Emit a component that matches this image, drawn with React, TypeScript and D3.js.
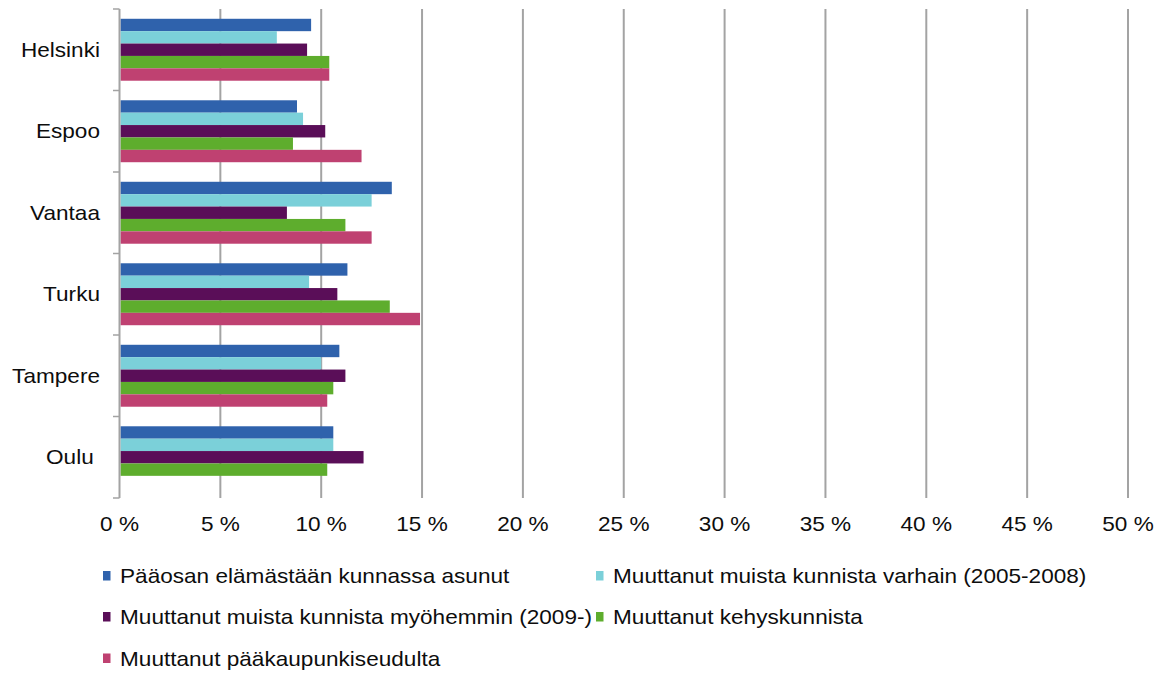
import React from 'react';
import * as d3 from 'd3';

const cities = ['Helsinki', 'Espoo', 'Vantaa', 'Turku', 'Tampere', 'Oulu\u00a0'];
const seriesNames = [
  'Pääosan elämästään kunnassa asunut',
  'Muuttanut muista kunnista varhain (2005-2008)',
  'Muuttanut muista kunnista myöhemmin (2009-)',
  'Muuttanut kehyskunnista',
  'Muuttanut pääkaupunkiseudulta'
];
const seriesColors = ['#2F62AC', '#7BD0D9', '#5A0E58', '#5EAD2D', '#BF4171'];
// one array per series, in city order (null = no bar)
const paaosan = [9.5, 8.8, 13.5, 11.3, 10.9, 10.6];
const varhain = [7.8, 9.1, 12.5, 9.4, 10.0, 10.6];
const myohemmin = [9.3, 10.2, 8.3, 10.8, 11.2, 12.1];
const kehys = [10.4, 8.6, 11.2, 13.4, 10.6, 10.3];
const paakaupunki = [10.4, 12.0, 12.5, 14.9, 10.3, null];
const seriesValues = [paaosan, varhain, myohemmin, kehys, paakaupunki];
const xTicks = [0, 5, 10, 15, 20, 25, 30, 35, 40, 45, 50];

const W = 1164;
const H = 675;
const FONT = '"Liberation Sans", Arial, sans-serif';
const SX = 1.13; // source text is slightly stretched horizontally

const Label = ({ x, y, anchor, children }: any) => (
  <text
    transform={`translate(${x},${y}) scale(${SX},1)`}
    textAnchor={anchor}
    dy="0.35em"
    fontFamily={FONT}
    fontSize={20}
    fill="#0d0d0d"
  >
    {children}
  </text>
);

const App = () => {
  const x = d3.scaleLinear().domain([0, 50]).range([119.5, 1128]);
  const y = d3.scaleBand<string>().domain(cities).range([9, 498]).paddingInner(0.24).paddingOuter(0.12);
  const yInner = d3.scaleBand<string>().domain(seriesNames).range([0, y.bandwidth()]);
  const step = y.step();
  const top = 9;
  const bottom = 498;

  const legendRows = [
    [0, 1],
    [2, 3],
    [4]
  ];
  const legendCols = [103, 596];
  const legendY = [576, 617, 658.5];

  return (
    <svg width={W} height={H} style={{ position: 'absolute', left: 0, top: 0, background: '#fff' }}>
      {/* grid */}
      {xTicks.slice(1).map(t => (
        <line key={t} x1={x(t)} x2={x(t)} y1={top} y2={bottom} stroke="#A3A3A3" strokeWidth={2} />
      ))}
      {/* bars */}
      {cities.map((c, ci) =>
        seriesNames.map((s, si) => {
          const v = seriesValues[si][ci];
          if (v == null) return null;
          return (
            <rect
              key={c + s}
              x={x(0) + 1}
              y={(y(c) as number) + (yInner(s) as number)}
              width={x(v) - x(0) - 1}
              height={yInner.bandwidth()}
              fill={seriesColors[si]}
            />
          );
        })
      )}
      {/* category axis */}
      <line x1={x(0)} x2={x(0)} y1={top} y2={bottom} stroke="#A3A3A3" strokeWidth={2} />
      {d3.range(cities.length + 1).map(i => (
        <line key={i} x1={113} x2={x(0)} y1={top + i * step} y2={top + i * step} stroke="#A3A3A3" strokeWidth={1.5} />
      ))}
      {cities.map(c => (
        <Label key={c} x={100} y={(y(c) as number) + y.bandwidth() / 2} anchor="end">
          {c}
        </Label>
      ))}
      {/* value axis labels */}
      {xTicks.map(t => (
        <Label key={t} x={x(t)} y={524} anchor="middle">
          {`${t} %`}
        </Label>
      ))}
      {/* legend */}
      {legendRows.map((row, ri) =>
        row.map((si, k) => (
          <g key={si}>
            <rect x={legendCols[k]} y={legendY[ri] - 5} width={7.5} height={9.5} fill={seriesColors[si]} />
            <Label x={legendCols[k] + 17} y={legendY[ri]} anchor="start">
              {seriesNames[si]}
            </Label>
          </g>
        ))
      )}
    </svg>
  );
};

export default App;
